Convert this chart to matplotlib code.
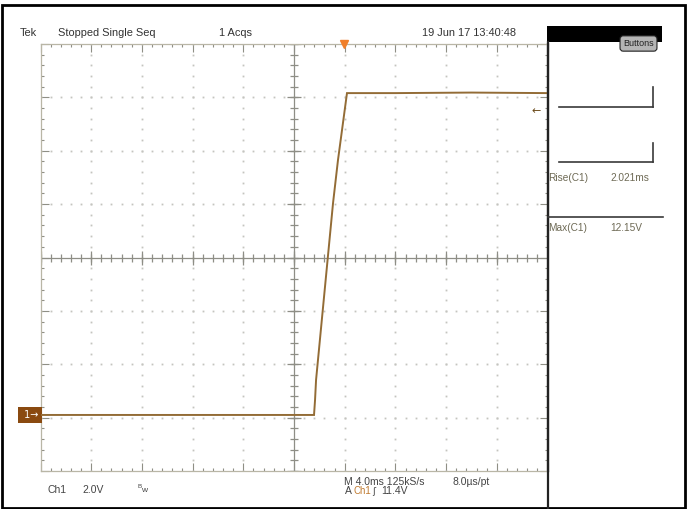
import matplotlib
matplotlib.use("Agg")
import matplotlib.pyplot as plt
import matplotlib.transforms as mtransforms
from matplotlib.lines import Line2D
from matplotlib.patches import Rectangle
import numpy as np

plt.rcParams["font.family"] = ["Liberation Sans", "DejaVu Sans"]

# --- values ---
time_ms = [-20.0, 1.58, 1.66, 1.74, 3.08, 3.47, 4.18, 8.0, 14.0, 20.0]
ch1_volts = [0.0, 0.0, 0.56, 1.31, 7.94, 9.55, 12.06, 12.06, 12.08, 12.06]

ms_per_div = 4.0
volts_per_div = 2.0
ch1_offset_div = -2.95      # ground marker position in divisions
trigger_time_ms = 3.95
trigger_level_v = 11.4

header = ["Tek", "Stopped Single Seq", "1 Acqs", "19 Jun 17 13:40:48"]
meas_names = ["Rise(C1)", "Max(C1)"]
meas_values = ["2.021ms", "12.15V"]

W, H = 688, 509


def fx(x):
    return x / W


def fy(y):
    return 1 - y / H


def fline(x0, y0, x1, y1, **kw):
    fig.add_artist(Line2D([fx(x0), fx(x1)], [fy(y0), fy(y1)],
                          transform=fig.transFigure, **kw))


fig = plt.figure(figsize=(W / 100, H / 100), dpi=100)
fig.patch.set_facecolor("white")

# graticule area
ax = fig.add_axes([fx(40.5), fy(471), (547.5 - 40.5) / W, (471 - 44) / H])
x_lo, x_hi = -5 * ms_per_div, 5 * ms_per_div
y_lo = (-4 - ch1_offset_div) * volts_per_div
y_hi = (4 - ch1_offset_div) * volts_per_div
ax.set_xlim(x_lo, x_hi)
ax.set_ylim(y_lo, y_hi)

maj_x = np.linspace(x_lo, x_hi, 11)
min_x = np.linspace(x_lo, x_hi, 51)
maj_y = np.linspace(y_lo, y_hi, 9)
min_y = np.linspace(y_lo, y_hi, 41)
ax.set_xticks(maj_x)
ax.set_xticks(min_x, minor=True)
ax.set_yticks(maj_y)
ax.set_yticks(min_y, minor=True)
ax.tick_params(which="both", direction="in", top=True, right=True,
               labelbottom=False, labelleft=False, color="#8f8f85", width=0.8)
ax.tick_params(which="major", length=6)
ax.tick_params(which="minor", length=2.5)
for s in ["left", "top", "bottom"]:
    ax.spines[s].set_color("#b9b6a6")
    ax.spines[s].set_linewidth(0.9)
ax.spines["right"].set_color("#222222")
ax.spines["right"].set_linewidth(1.6)

# dotted division lines
xc = 0.5 * (x_lo + x_hi)
yc = 0.5 * (y_lo + y_hi)
for gx in maj_x[1:-1]:
    if abs(gx - xc) > 1e-6:
        ax.plot([gx] * len(min_y), min_y, ls="none", marker="s", ms=1.3,
                color="#c4c4bf", mew=0)
for gy in maj_y[1:-1]:
    if abs(gy - yc) > 1e-6:
        ax.plot(min_x, [gy] * len(min_x), ls="none", marker="s", ms=1.3,
                color="#c4c4bf", mew=0)

# centre cross with ticks
ax.axhline(yc, color="#8e8e86", lw=0.9)
ax.axvline(xc, color="#8e8e86", lw=0.9)
ax.plot(min_x, [yc] * len(min_x), ls="none", marker="|", ms=6,
        color="#8e8e86", mew=0.9)
ax.plot(maj_x, [yc] * len(maj_x), ls="none", marker="|", ms=10,
        color="#8e8e86", mew=0.9)
ax.plot([xc] * len(min_y), min_y, ls="none", marker="_", ms=6,
        color="#8e8e86", mew=0.9)
ax.plot([xc] * len(maj_y), maj_y, ls="none", marker="_", ms=10,
        color="#8e8e86", mew=0.9)

# waveform
ax.plot(time_ms, ch1_volts, color="#936c36", lw=1.4, zorder=5,
        solid_joinstyle="miter")

# ground marker, trigger level and trigger position
axy = mtransforms.blended_transform_factory(ax.transAxes, ax.transData)
xax = mtransforms.blended_transform_factory(ax.transData, ax.transAxes)
ax.text(-0.004, 0.0, " 1\u2192", transform=axy, ha="right", va="center",
        color="white", fontsize=7, family=["DejaVu Sans"],
        bbox=dict(boxstyle="square,pad=0.35", fc="#8a4a10", ec="none"))
ax.text(0.978, trigger_level_v, "\u2190", transform=axy, ha="center",
        va="center", color="#6b4a1a", fontsize=8, family=["DejaVu Sans"])
ax.plot([trigger_time_ms], [1.0], transform=xax, marker="v", ms=6,
        color="#f07f2a", clip_on=False, zorder=6)

# outer frame and right panel
fig.add_artist(Rectangle((fx(2), fy(508)), fx(685) - fx(2), fy(4.5) - fy(508),
                         transform=fig.transFigure, fill=False,
                         ec="black", lw=2))
fline(547.5, 42, 547.5, 508, color="#222222", lw=1.6)
fig.add_artist(Rectangle((fx(547), fy(42)), fx(662) - fx(547),
                         fy(26) - fy(42), transform=fig.transFigure,
                         fc="black", ec="none"))
fig.text(fx(638.5), fy(43.5), "Buttons", ha="center", va="center",
         fontsize=6.5, color="#222222",
         bbox=dict(boxstyle="round,pad=0.35", fc="#b5b5b5", ec="#222222",
                   lw=0.8))

panel = dict(color="#3a3a3a", lw=1.2)
fline(559, 107, 653, 107, **panel)
fline(653, 87, 653, 107, **panel)
fline(559, 162, 653, 162, **panel)
fline(653, 143, 653, 162, **panel)
fline(548, 217, 663, 217, **panel)

meas_kw = dict(fontsize=7.3, color="#6e6a55", va="center", ha="left")
for name, val, ypos in zip(meas_names, meas_values, [178, 228]):
    fig.text(fx(548), fy(ypos), name, **meas_kw)
    fig.text(fx(610), fy(ypos), val, **meas_kw)

# header line
head_kw = dict(fontsize=7.9, color="#333333", va="center", ha="left")
for txt, xpos in zip(header, [20, 58, 219, 422]):
    fig.text(fx(xpos), fy(33), txt, **head_kw)

# footer
foot_kw = dict(fontsize=7.5, color="#444444", va="center", ha="left")
fig.text(fx(47), fy(490), "Ch1", **foot_kw)
fig.text(fx(82), fy(490), "2.0V", **foot_kw)
fig.text(fx(138), fy(486), "B", fontsize=4.5, color="#444444",
         va="center", ha="left")
fig.text(fx(141), fy(491), "w", fontsize=6, color="#444444",
         va="center", ha="left")
fig.text(fx(344), fy(482), "M 4.0ms 125kS/s", **foot_kw)
fig.text(fx(453), fy(482), "8.0\u00b5s/pt", **foot_kw)
fig.text(fx(345), fy(491), "A", **foot_kw)
fig.text(fx(354), fy(491), "Ch1", fontsize=7, color="#c07a30",
         va="center", ha="left")
fig.text(fx(372), fy(491), "\u0283", fontsize=6.5, color="#444444",
         va="center", ha="left", family=["DejaVu Sans"])
fig.text(fx(381), fy(491), "11.4V", **foot_kw)

fig.savefig("out.png", dpi=100, facecolor="white")
